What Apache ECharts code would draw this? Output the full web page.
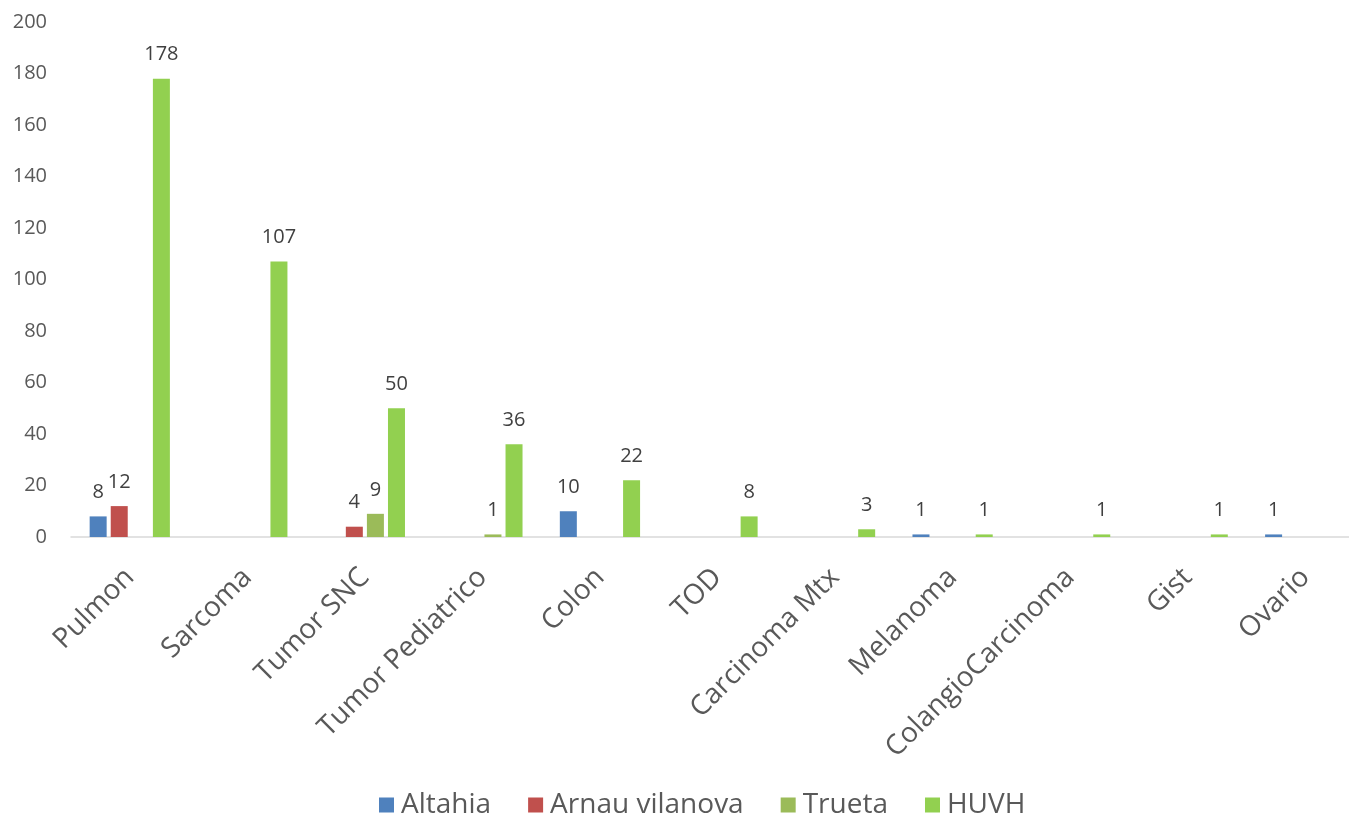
<!DOCTYPE html>
<html>
<head>
<meta charset="utf-8">
<script src="https://cdn.jsdelivr.net/npm/echarts@6/dist/echarts.min.js"></script>
<style>
  html, body { margin: 0; padding: 0; background: #ffffff; overflow: hidden; }
  /* the plot continues slightly past the right edge of the window */
  #chart { width: 1364px; height: 820px; }
</style>
</head>
<body>
<div id="chart"></div>
<script>
// Casos por tipo de tumor y hospital
const categories = ['Pulmon', 'Sarcoma', 'Tumor SNC', 'Tumor Pediatrico', 'Colon', 'TOD',
  'Carcinoma Mtx', 'Melanoma', 'ColangioCarcinoma', 'Gist', 'Ovario'];
const altahia       = [8, null, null, null, 10, null, null, 1, null, null, 1];
const arnauVilanova = [12, null, 4, null, null, null, null, null, null, null, null];
const trueta        = [null, null, 9, 1, null, null, null, null, null, null, null];
const huvh          = [178, 107, 50, 36, 22, 8, 3, 1, 1, 1, null];
const yTicks = { min: 0, max: 200, interval: 20 };

const textColor = '#595959';
const font = '"Open Sans", "Noto Sans", sans-serif';

function barSeries(name, data, color) {
  return {
    name: name,
    type: 'bar',
    data: data,
    barWidth: 17,
    barGap: '24%',
    itemStyle: { color: color },
    label: {
      show: true,
      position: 'top',
      distance: 14,
      color: '#404040',
      fontFamily: font,
      fontSize: 20
    }
  };
}

const chart = echarts.init(document.getElementById('chart'), null, { renderer: 'canvas' });
chart.setOption({
  animation: false,
  backgroundColor: '#ffffff',
  grid: { left: 71, right: 0, top: 22, bottom: 283, containLabel: false },
  legend: {
    bottom: -4,
    left: 374,
    itemWidth: 15,
    itemHeight: 15,
    itemGap: 37,
    icon: 'rect',
    textStyle: { color: textColor, fontFamily: font, fontSize: 28, padding: [0, 0, 0, 2] },
    data: ['Altahia', 'Arnau vilanova', 'Trueta', 'HUVH']
  },
  xAxis: {
    type: 'category',
    data: categories,
    axisLine: { show: true, lineStyle: { color: '#d9d9d9', width: 1.5 } },
    axisTick: { show: false },
    axisLabel: {
      interval: 0,
      rotate: 45,
      margin: 36,
      color: textColor,
      fontFamily: font,
      fontSize: 28
    }
  },
  yAxis: {
    type: 'value',
    min: yTicks.min,
    max: yTicks.max,
    interval: yTicks.interval,
    splitLine: { show: false },
    axisLine: { show: false },
    axisTick: { show: false },
    axisLabel: { margin: 24, color: textColor, fontFamily: font, fontSize: 20 }
  },
  series: [
    barSeries('Altahia', altahia, '#4f81bd'),
    barSeries('Arnau vilanova', arnauVilanova, '#c0504d'),
    barSeries('Trueta', trueta, '#9bbb59'),
    barSeries('HUVH', huvh, '#92d050')
  ]
});
</script>
</body>
</html>
